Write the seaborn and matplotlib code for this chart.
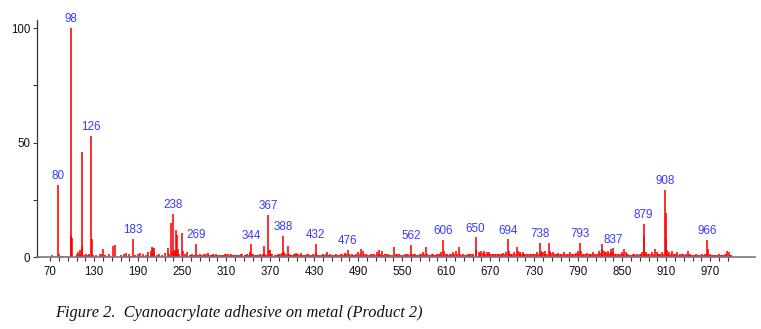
import numpy as np
import pandas as pd
import matplotlib
matplotlib.use("Agg")
import matplotlib.pyplot as plt
import seaborn as sns
from matplotlib.ticker import FixedLocator

# ---- data ----
peak_mz = [80, 98, 99, 100, 113, 114, 126, 127, 155, 159, 183, 209, 210, 211, 230,
           235, 238, 241, 243, 250, 269, 344, 362, 367, 368, 370, 388, 394, 432,
           476, 494, 496, 519, 539, 562, 582, 606, 627, 650, 694, 706, 738, 750,
           793, 822, 823, 834, 837, 853, 879, 880, 895, 908, 909, 910, 940, 966,
           967, 993]
peak_int = [31.5, 100, 9.0, 8.3, 46, 4.6, 52.8, 7.7, 4.8, 5.3, 7.8, 4.3, 4.0, 3.8, 4.0,
            15.0, 18.8, 11.8, 9.6, 10.6, 5.6, 5.5, 4.8, 18.3, 3.0, 3.2, 9.2, 5.0, 5.6,
            3.2, 3.5, 2.8, 3.0, 4.5, 5.3, 4.5, 7.4, 4.5, 8.6, 7.7, 4.5, 6.2, 6.2,
            6.2, 5.5, 3.5, 3.5, 3.8, 3.5, 14.5, 9.0, 3.3, 29.3, 19.0, 8.0, 2.8, 7.4,
            3.5, 2.6]

noise_mz = [72, 82, 86, 107, 108, 110, 111, 116, 119, 121, 123, 128, 133, 138, 141, 142,
            145, 150, 166, 170, 173, 178, 180, 186, 190, 193, 196, 200, 204, 207, 212,
            215, 218, 222, 226, 232, 236, 239, 240, 242, 244, 246, 251, 254, 257, 260,
            264, 272, 276, 280, 285, 289, 292, 296, 300, 304, 308, 313, 317, 320, 325,
            330, 335, 339, 342, 347, 352, 356, 363, 371, 376, 380, 383, 386, 389, 395,
            399, 402, 405, 408, 412, 416, 420, 424, 428, 433, 438, 442, 448, 452, 456,
            460, 464, 468, 472, 477, 481, 485, 490, 500, 504, 508, 512, 516, 522, 526,
            530, 534, 541, 545, 550, 554, 558, 563, 566, 570, 574, 578, 584, 588, 592,
            596, 600, 603, 607, 611, 615, 619, 623, 629, 633, 637, 641, 645, 651, 654,
            658, 661, 665, 668, 672, 676, 680, 684, 688, 691, 695, 698, 702, 708, 711,
            714, 718, 722, 726, 730, 734, 739, 742, 745, 751, 755, 759, 763, 767, 771,
            775, 779, 783, 787, 790, 794, 798, 802, 806, 810, 814, 818, 825, 828, 831,
            838, 842, 846, 849, 855, 858, 862, 866, 870, 874, 877, 883, 887, 891, 897,
            900, 904, 911, 914, 918, 921, 925, 929, 933, 937, 943, 947, 951, 955, 959,
            963, 970, 974, 978, 982, 986, 990, 995, 998]
noise_int = [0.8, 1.2, 0.6, 1.5, 2.3, 1.2, 3.2, 1.0, 1.5, 0.8, 1.2, 1.0, 0.9, 1.3, 1.5, 3.3,
             1.0, 1.3, 0.8, 1.2, 1.8, 1.2, 0.6, 1.0, 1.2, 1.8, 1.3, 0.8, 2.0, 2.5, 2.2,
             1.0, 1.5, 1.0, 1.7, 1.5, 2.0, 3.0, 2.5, 2.0, 3.5, 1.5, 2.5, 1.5, 2.0, 1.0,
             1.2, 0.8, 1.0, 1.2, 1.6, 1.0, 1.5, 1.2, 1.0, 0.8, 1.2, 1.5, 1.3, 0.9, 1.0,
             1.2, 1.0, 1.5, 2.0, 1.5, 1.0, 1.4, 1.5, 1.5, 1.0, 1.5, 1.3, 1.8, 2.0, 1.5,
             1.0, 1.3, 1.8, 1.2, 1.6, 1.0, 1.3, 1.0, 1.2, 1.6, 1.0, 1.2, 2.0, 1.2, 0.9,
             1.3, 1.0, 1.4, 1.8, 1.5, 1.2, 1.0, 2.0, 1.2, 1.0, 1.4, 1.2, 2.0, 2.5, 1.2,
             1.5, 1.0, 1.5, 1.2, 1.0, 1.5, 1.2, 1.5, 1.2, 1.0, 1.5, 2.0, 1.5, 1.0, 1.3,
             1.0, 1.5, 2.0, 2.5, 1.5, 1.3, 2.0, 2.5, 1.5, 1.2, 1.0, 1.3, 1.5, 3.0, 2.0,
             2.5, 2.8, 2.2, 2.0, 1.5, 1.3, 1.5, 1.2, 1.8, 2.0, 2.5, 1.5, 2.0, 2.5, 2.0,
             2.2, 1.5, 1.2, 1.5, 1.3, 2.0, 2.5, 2.0, 2.5, 2.5, 2.0, 1.5, 1.8, 1.5, 2.0,
             1.5, 2.0, 1.5, 1.8, 2.5, 2.5, 1.5, 1.8, 1.5, 2.0, 1.5, 2.5, 2.5, 2.0, 2.5,
             2.0, 1.5, 1.5, 2.0, 2.0, 1.5, 1.0, 1.5, 1.2, 1.5, 2.0, 2.0, 1.5, 2.0, 2.0,
             1.5, 2.0, 3.0, 2.0, 2.5, 1.5, 2.0, 1.5, 1.5, 1.2, 1.5, 1.0, 1.5, 1.0, 1.2,
             1.5, 1.5, 1.0, 1.0, 1.5, 1.0, 1.2, 2.0, 1.0]

floor_mz = [262, 266, 270, 274, 278, 282, 287, 290, 294, 298,
            302, 306, 310, 315, 319, 323, 327, 332, 337, 341,
            345, 349, 354, 358, 360, 365, 373, 378, 382, 391,
            397, 400, 404, 407, 410, 414, 418, 422, 426, 430,
            435, 440, 444, 446, 450, 454, 458, 462, 466, 470,
            474, 479, 483, 487, 492, 498, 502, 506, 510, 514,
            518, 520, 524, 528, 532, 536, 543, 547, 552, 556,
            560, 568, 572, 576, 580, 586, 590, 594, 598, 601,
            609, 613, 617, 621, 625, 631, 635, 639, 643, 647,
            656, 660, 663, 667, 670, 674, 678, 682, 686, 690,
            697, 700, 704, 710, 713, 716, 720, 724, 728, 732,
            736, 741, 744, 747, 753, 757, 761, 765, 769, 773,
            777, 781, 785, 789, 796, 800, 804, 808, 812, 816,
            820, 827, 830, 833, 836, 840, 844, 848, 851, 857,
            860, 864, 868, 872, 876, 882, 885, 889, 893, 899,
            902, 906, 913, 916, 920, 923, 927, 931, 935, 939,
            942, 945, 949, 953, 957, 961, 965, 969, 972, 976,
            980, 984, 988, 992, 997, 1000]
floor_int = [0.8, 1.0, 0.7, 1.1, 0.9, 1.2, 0.8, 1.0, 0.9, 0.7,
             1.0, 0.8, 1.1, 0.9, 1.0, 0.7, 0.9, 1.1, 0.8, 1.0,
             1.2, 0.9, 1.0, 0.8, 1.3, 1.0, 1.1, 0.9, 1.0, 1.2,
             0.9, 0.8, 1.0, 1.1, 0.9, 1.0, 0.8, 1.1, 0.9, 1.0,
             1.0, 0.8, 0.9, 1.1, 1.0, 0.8, 0.9, 1.0, 1.1, 0.9,
             1.2, 1.0, 0.9, 1.1, 1.3, 1.2, 1.0, 0.9, 1.1, 1.0,
             1.2, 1.4, 1.0, 1.1, 0.9, 1.0, 1.2, 1.0, 0.9, 1.1,
             1.0, 1.1, 0.9, 1.2, 1.4, 1.0, 1.1, 0.9, 1.2, 1.3,
             1.2, 1.0, 1.3, 1.1, 1.4, 1.0, 0.9, 1.1, 1.2, 1.3,
             1.5, 1.6, 1.4, 1.5, 1.3, 1.2, 1.1, 1.3, 1.2, 1.4,
             1.3, 1.2, 1.4, 1.6, 1.5, 1.3, 1.2, 1.1, 1.3, 1.2,
             1.4, 1.6, 1.5, 1.4, 1.6, 1.3, 1.2, 1.4, 1.3, 1.5,
             1.3, 1.4, 1.2, 1.5, 1.4, 1.2, 1.3, 1.2, 1.4, 1.3,
             1.6, 1.8, 1.5, 1.7, 1.9, 1.3, 1.2, 1.4, 1.3, 1.2,
             1.0, 1.1, 0.9, 1.0, 1.2, 1.5, 1.2, 1.3, 1.4, 1.3,
             1.2, 1.4, 1.3, 1.2, 1.4, 1.1, 1.0, 1.2, 1.0, 0.9,
             1.0, 0.8, 0.9, 0.8, 0.9, 1.0, 1.2, 1.0, 0.8, 0.7,
             0.8, 0.7, 0.9, 1.0, 0.8, 0.5]

label_mz = [80, 98, 126, 183, 238, 269, 344, 367, 388, 432, 476, 562, 606, 650, 694,
            738, 793, 837, 879, 908, 966]

x_major = list(range(70, 971, 60))
x_minor = list(range(82, 1000, 12))
y_major = [0, 50, 100]
y_minor = [25, 75]

caption = "Figure 2.  Cyanoacrylate adhesive on metal (Product 2)"

# ---- build table ----
df = pd.DataFrame({"mz": peak_mz + noise_mz + floor_mz,
                   "intensity": peak_int + noise_int + floor_int})
df = df.groupby("mz", as_index=False)["intensity"].max().sort_values("mz")
lookup = dict(zip(df["mz"], df["intensity"]))

sns.set_theme(style="ticks")
plt.rcParams["font.family"] = ["Liberation Sans", "DejaVu Sans"]

fig = plt.figure(figsize=(7.61, 3.29), dpi=100)
ax = fig.add_axes([37 / 761, 72 / 329, (755 - 37) / 761, (257 - 20) / 329])

# stick spectrum: one thin red stem per m/z value
ax.vlines(df["mz"], 0, df["intensity"], colors="#ff0000", linewidth=1.15)
sns.despine(ax=ax)

ax.set_xlim(52, 1031)
ax.set_ylim(0, 103.5)
ax.set_xlabel("")
ax.set_ylabel("")

for m in label_mz:
    ax.annotate(str(m), (m, lookup[m]), xytext=(0, 2), textcoords="offset points",
                ha="center", va="bottom", fontsize=8.4, color="#3a3aff")

ax.xaxis.set_major_locator(FixedLocator(x_major))
ax.xaxis.set_minor_locator(FixedLocator([t for t in x_minor if t not in x_major]))
ax.yaxis.set_major_locator(FixedLocator(y_major))
ax.yaxis.set_minor_locator(FixedLocator(y_minor))
ax.set_xticklabels([str(t) for t in x_major])
ax.set_yticklabels([str(t) for t in y_major])

ax.tick_params(axis="both", which="major", length=3.2, width=0.8, labelsize=8.3,
               colors="#333333", labelcolor="#111111")
ax.tick_params(axis="both", which="minor", length=2.6, width=0.8, colors="#333333")
ax.tick_params(axis="x", which="major", pad=3)
ax.tick_params(axis="y", which="major", pad=1.5)

ax.spines["left"].set_color("#333333")
ax.spines["left"].set_linewidth(0.9)
ax.spines["bottom"].set_color("#777777")
ax.spines["bottom"].set_linewidth(1.2)
ax.set_facecolor("white")
ax.grid(False)

fig.text(55 / 761, 1 - 313 / 329, caption, ha="left", va="center",
         fontsize=11.75, style="italic", family=["Liberation Serif", "DejaVu Serif"],
         color="#111111")

fig.savefig("out.png", dpi=100, facecolor="white")
